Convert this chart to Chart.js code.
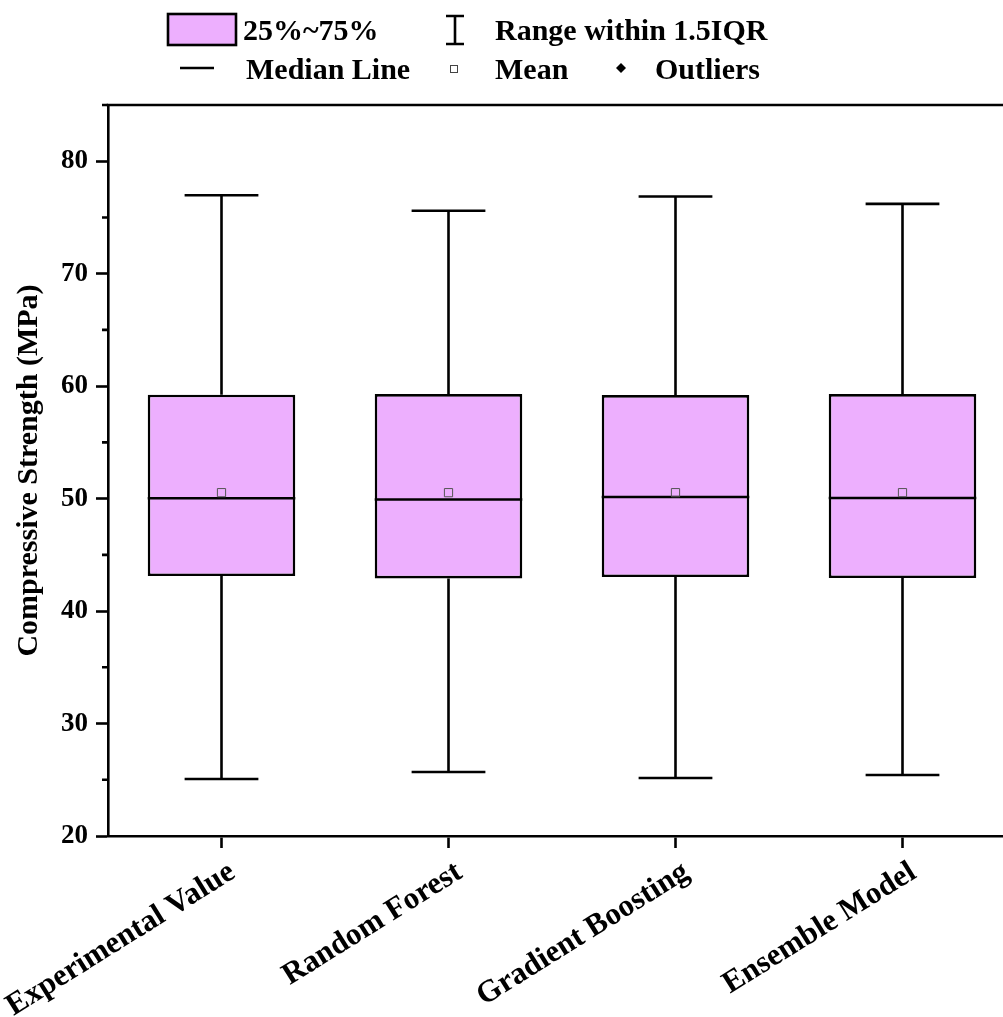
<!DOCTYPE html>
<html>
<head>
<meta charset="utf-8">
<script src="https://cdn.jsdelivr.net/npm/chart.js@4.4.0/dist/chart.umd.min.js"></script>
<style>
  html, body { margin: 0; padding: 0; overflow: hidden; background: #ffffff; }
  canvas { display: block; }
</style>
</head>
<body>
<canvas id="chart" width="1030" height="1017"></canvas>
<script>
// Box-plot statistics for each model (MPa)
const categories = ['Experimental Value', 'Random Forest', 'Gradient Boosting', 'Ensemble Model'];
const whiskerLow  = [25.07, 25.69, 25.16, 25.42];
const quartile1   = [43.12, 42.90, 43.03, 42.94];
const medians     = [50.03, 49.92, 50.14, 50.05];
const quartile3   = [59.24, 59.30, 59.21, 59.30];
const whiskerHigh = [76.97, 75.60, 76.87, 76.21];
const means       = [50.53, 50.53, 50.53, 50.53];

// Axis ticks
const yMajorTicks = [20, 30, 40, 50, 60, 70, 80];
const yMinorTicks = [25, 35, 45, 55, 65, 75, 85];

const BOX_FILL = '#EDAFFE';
const INK = '#000000';
const FONT = "'Liberation Serif', 'Times New Roman', serif";

// Whiskers, caps and median lines, drawn on top of the boxes
const boxDetails = {
  id: 'boxDetails',
  afterDatasetDraw(chart, args) {
    if (args.index !== 0) return;
    const ctx = chart.ctx;
    const y = chart.scales.y;
    const meta = chart.getDatasetMeta(0);
    ctx.save();
    ctx.strokeStyle = INK;
    ctx.lineCap = 'butt';
    meta.data.forEach((bar, i) => {
      const x = bar.x;
      const half = bar.width / 2;
      const cap = bar.width / 4;
      const yLow = y.getPixelForValue(whiskerLow[i]);
      const yQ1 = y.getPixelForValue(quartile1[i]);
      const yQ3 = y.getPixelForValue(quartile3[i]);
      const yHigh = y.getPixelForValue(whiskerHigh[i]);
      const yMed = y.getPixelForValue(medians[i]);
      ctx.lineWidth = 2.6;
      ctx.beginPath();
      ctx.moveTo(x, yQ3); ctx.lineTo(x, yHigh);
      ctx.moveTo(x - cap, yHigh); ctx.lineTo(x + cap, yHigh);
      ctx.moveTo(x, yQ1); ctx.lineTo(x, yLow);
      ctx.moveTo(x - cap, yLow); ctx.lineTo(x + cap, yLow);
      ctx.stroke();
      ctx.beginPath();
      ctx.moveTo(x - half, yMed); ctx.lineTo(x + half, yMed);
      ctx.stroke();
    });
    ctx.restore();
  }
};

// Frame top/right edges, minor y ticks and the legend
const frameAndLegend = {
  id: 'frameAndLegend',
  afterDraw(chart) {
    const ctx = chart.ctx;
    const area = chart.chartArea;
    const y = chart.scales.y;
    ctx.save();
    ctx.strokeStyle = INK;
    ctx.lineWidth = 2.6;
    ctx.beginPath();
    ctx.moveTo(area.left - 1.3, area.top);
    ctx.lineTo(area.right, area.top);
    ctx.lineTo(area.right, area.bottom);
    ctx.stroke();
    // minor ticks
    ctx.beginPath();
    yMinorTicks.forEach(v => {
      const py = y.getPixelForValue(v);
      ctx.moveTo(area.left - 6, py);
      ctx.lineTo(area.left, py);
    });
    ctx.stroke();

    // legend
    ctx.fillStyle = INK;
    ctx.font = 'bold 30px ' + FONT;
    ctx.textBaseline = 'alphabetic';
    ctx.textAlign = 'left';

    // 25%~75% swatch
    ctx.fillStyle = BOX_FILL;
    ctx.fillRect(168, 14, 68, 31);
    ctx.lineWidth = 2.6;
    ctx.strokeRect(168, 14, 68, 31);
    ctx.fillStyle = INK;
    ctx.fillText('25%~75%', 243, 40);

    // whisker symbol
    ctx.beginPath();
    ctx.moveTo(446, 16); ctx.lineTo(464, 16);
    ctx.moveTo(455, 16); ctx.lineTo(455, 44);
    ctx.moveTo(446, 44); ctx.lineTo(464, 44);
    ctx.stroke();
    ctx.fillText('Range within 1.5IQR', 495, 40);

    // median line symbol
    ctx.beginPath();
    ctx.moveTo(180, 68); ctx.lineTo(214, 68);
    ctx.stroke();
    ctx.fillText('Median Line', 246, 79);

    // mean symbol
    ctx.lineWidth = 1;
    ctx.strokeStyle = '#444444';
    ctx.strokeRect(450.5, 65.5, 7, 7);
    ctx.fillText('Mean', 495, 79);

    // outlier symbol
    ctx.beginPath();
    ctx.moveTo(621, 63); ctx.lineTo(626, 68); ctx.lineTo(621, 73); ctx.lineTo(616, 68);
    ctx.closePath();
    ctx.fill();
    ctx.fillText('Outliers', 655, 79);
    ctx.restore();
  }
};

const boxRanges = categories.map((_, i) => [quartile1[i], quartile3[i]]);

new Chart(document.getElementById('chart'), {
  data: {
    labels: categories,
    datasets: [
      {
        type: 'bar',
        label: '25%~75%',
        data: boxRanges,
        backgroundColor: BOX_FILL,
        borderColor: INK,
        borderWidth: 2.6,
        borderSkipped: false,
        barPercentage: 0.65,
        categoryPercentage: 1.0,
        order: 2
      },
      {
        type: 'line',
        label: 'Mean',
        data: means,
        showLine: false,
        pointStyle: 'rect',
        pointRadius: 5.8,
        pointBorderWidth: 1,
        pointBorderColor: '#555555',
        pointBackgroundColor: 'rgba(0,0,0,0)',
        order: 1
      }
    ]
  },
  plugins: [boxDetails, frameAndLegend],
  options: {
    responsive: false,
    animation: false,
    devicePixelRatio: 1,
    layout: { padding: { top: 105, right: 14, bottom: 0, left: 0 } },
    plugins: { legend: { display: false }, tooltip: { enabled: false } },
    scales: {
      x: {
        type: 'category',
        offset: true,
        grid: { display: true, drawOnChartArea: false, drawTicks: true, tickLength: 12, tickWidth: 2.6, tickColor: INK, offset: false },
        border: { display: true, color: INK, width: 2.6 },
        ticks: {
          color: INK,
          font: { family: FONT, size: 31, weight: 'bold' },
          minRotation: 32,
          maxRotation: 32,
          padding: 6,
          labelOffset: 11,
          autoSkip: false
        },
        afterFit(scale) {
          scale.height = 181;
          scale.paddingLeft = 0;
          scale.paddingRight = 0;
        }
      },
      y: {
        type: 'linear',
        min: 20,
        max: 85,
        afterBuildTicks(scale) { scale.ticks = yMajorTicks.map(v => ({ value: v })); },
        grid: { display: true, drawOnChartArea: false, drawTicks: true, tickLength: 12, tickWidth: 2.6, tickColor: INK },
        border: { display: true, color: INK, width: 2.6 },
        ticks: {
          color: INK,
          font: { family: FONT, size: 27, weight: 'bold' },
          padding: 8
        },
        title: {
          display: true,
          text: 'Compressive Strength (MPa)',
          color: INK,
          font: { family: FONT, size: 30, weight: 'bold' },
          padding: { top: 11, bottom: 0 }
        },
        afterFit(scale) {
          scale.width = 108;
          scale.paddingTop = 0;
          scale.paddingBottom = 0;
        }
      }
    }
  }
});
</script>
</body>
</html>
